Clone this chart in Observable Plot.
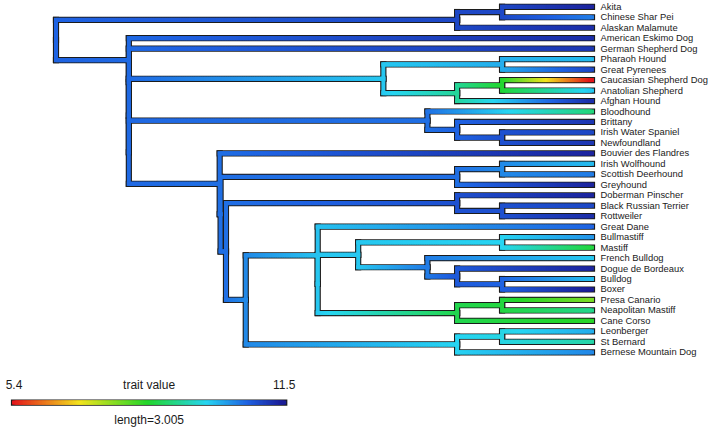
<!DOCTYPE html>
<html><head><meta charset="utf-8">
<script src="https://cdn.jsdelivr.net/npm/d3@7"></script>
<script src="https://cdn.jsdelivr.net/npm/@observablehq/plot@0.6"></script>
<style>body{margin:0;background:#fff;} #chart svg{display:block;}</style>
</head><body><div id="chart"></div>
<script>
// ---- data ----
const tipNames = ["Akita","Chinese Shar Pei","Alaskan Malamute","American Eskimo Dog","German Shepherd Dog","Pharaoh Hound","Great Pyrenees","Caucasian Shepherd Dog","Anatolian Shepherd","Afghan Hound","Bloodhound","Brittany","Irish Water Spaniel","Newfoundland","Bouvier des Flandres","Irish Wolfhound","Scottish Deerhound","Greyhound","Doberman Pinscher","Black Russian Terrier","Rottweiler","Great Dane","Bullmastiff","Mastiff","French Bulldog","Dogue de Bordeaux","Bulldog","Boxer","Presa Canario","Neapolitan Mastiff","Cane Corso","Leonberger","St Bernard","Bernese Mountain Dog"];
const tipParents = ["n2","n2","n1","nB1","nB2","nPG","nPG","nCA2","nCA2","nCA","nBl","nBr","nIN","nIN","nC1","nIS","nIS","nIW","nDob","nBR","nBR","nF1","nBM","nBM","nFr","nDo","nBB","nBB","nPN","nPN","nPr","nLS","nLS","nG"];
const tipValues = [11.4,10.5,11.3,11.3,11.2,10.0,11.0,5.4,9.9,11.3,9.0,11.2,11.0,11.2,11.4,10.0,10.5,11.4,11.4,11.0,11.3,10.7,10.3,8.6,9.9,11.4,10.0,11.5,7.8,9.1,8.4,10.1,9.3,10.4];
const nodeNames   = ["root","n1","n2","nB1","nB2","nB3","nB4","nPh","nPG","nCA","nCA2","nBl","nBr","nIN","nC1","nC2","nIW","nIS","nD","nDob","nBR","nE","nF1","nF2","nH","nBM","nFr","nDo","nBB","nPr","nPN","nG","nLS"];
const nodeParents = [null,"root","n1","root","nB1","nB2","nB3","nB3","nPh","nPh","nCA","nB4","nBl","nBr","nB4","nC1","nC2","nIW","nC2","nD","nDob","nD","nE","nF1","nF2","nH","nH","nFr","nDo","nF2","nPr","nE","nG"];
const nodeDepths  = [0,4.46,4.96,0.81,0.81,0.81,0.81,3.64,4.96,4.46,4.96,4.13,4.46,4.96,1.82,1.83,4.46,4.96,1.89,4.46,4.96,2.11,2.91,2.91,3.36,4.96,4.13,4.46,4.96,4.46,4.96,4.46,4.96];
const nodeValues  = [10.7,11.0,11.0,10.65,10.65,10.65,10.65,9.9,10.1,9.2,8.5,10.6,10.7,10.9,10.6,10.6,10.6,10.4,10.6,10.9,10.9,10.4,9.95,9.9,9.9,9.8,10.5,10.8,10.7,8.7,8.6,9.8,9.7];
const treeHeight = 5.96;
const traitRange = [5.4, 11.5];
const legendTitle = "trait value";
const legendLength = 3.005;

// ---- layout constants ----
const legendX0 = -0.467;
const legendBarY = 37.8, legendLabelY = 36.15, legendSubY = 39.5;
const font = "'Liberation Sans', Arial, Helvetica, sans-serif";

// ---- build tree ----
const nodes = new Map();
nodeNames.forEach((n,i)=>nodes.set(n,{name:n,parent:nodeParents[i],depth:nodeDepths[i],value:nodeValues[i],children:[]}));
tipNames.forEach((n,i)=>nodes.set(n,{name:n,parent:tipParents[i],depth:treeHeight,value:tipValues[i],children:[],tip:true,index:i}));
for (const nd of nodes.values()) if (nd.parent) nodes.get(nd.parent).children.push(nd);
function layoutY(nd){ if (nd.tip) return nd.y = nd.index; const ys = nd.children.map(layoutY); return nd.y = (Math.min(...ys)+Math.max(...ys))/2; }
layoutY(nodes.get("root"));

const step = 0.02;
const outline = [], pieces = [];
for (const nd of nodes.values()) {
  if (!nd.parent) continue;
  const p = nodes.get(nd.parent);
  outline.push({x1:p.depth,y1:p.y,x2:p.depth,y2:nd.y});
  pieces.push({x1:p.depth,y1:p.y,x2:p.depth,y2:nd.y,v:p.value});
  const len = nd.depth - p.depth;
  if (len > 0) {
    outline.push({x1:p.depth,y1:nd.y,x2:nd.depth,y2:nd.y});
    const n = Math.max(1, Math.ceil(len/step));
    for (let k=0;k<n;k++) pieces.push({x1:p.depth+len*k/n, x2:p.depth+len*(k+1)/n, y1:nd.y, y2:nd.y, v:p.value+(nd.value-p.value)*(k+0.5)/n});
  }
}
const tips = [...nodes.values()].filter(d=>d.tip);

// legend bar pieces
const nL = 200, legendPieces = [];
for (let k=0;k<nL;k++) legendPieces.push({x1:legendX0+legendLength*k/nL, x2:legendX0+legendLength*(k+1)/nL, v:traitRange[0]+(traitRange[1]-traitRange[0])*(k+0.5)/nL});
const legendLabels = [
  {x:legendX0, y:legendLabelY, t:String(traitRange[0])},
  {x:legendX0+legendLength/2, y:legendLabelY, t:legendTitle},
  {x:legendX0+legendLength, y:legendLabelY, t:String(traitRange[1])},
  {x:legendX0+legendLength/2, y:legendSubY, t:"length="+legendLength}
];

// palette
const stopsT = [0, 0.25, 0.5, 0.72, 0.87, 1];
const stopsC = ["#e3131b", "#f2e41e", "#22d62a", "#27d5f2", "#1f62e2", "#1b1c96"];
const ramp = t => { let i = 0; while (i < stopsT.length-2 && t > stopsT[i+1]) i++; return d3.interpolateRgb(stopsC[i], stopsC[i+1])(Math.max(0,Math.min(1,(t-stopsT[i])/(stopsT[i+1]-stopsT[i])))); };

const chart = Plot.plot({
  width: 708, height: 430, margin: 0,
  x: {domain:[0, treeHeight], range:[55.5, 591.5], axis:null},
  y: {domain:[0, 33], range:[6.3, 351.8], axis:null},
  color: {type:"linear", domain: traitRange, interpolate: ramp},
  style: {background:"#fff"},
  marks: [
    Plot.link(outline, {x1:"x1", y1:"y1", x2:"x2", y2:"y2", stroke:"#1c1c1c", strokeWidth:6.2, strokeLinecap:"square"}),
    Plot.link(pieces, {x1:"x1", y1:"y1", x2:"x2", y2:"y2", stroke:"v", strokeWidth:4, strokeLinecap:"square"}),
    Plot.text(tips, {x:"depth", y:"index", text:"name", textAnchor:"start", dx:8.5, fontSize:9.4, fill:"#1a1a1a", fontFamily:font}),
    Plot.link([{x1:legendX0, x2:legendX0+legendLength}], {x1:"x1", x2:"x2", y1:()=>legendBarY, y2:()=>legendBarY, stroke:"#1c1c1c", strokeWidth:6.2, strokeLinecap:"square"}),
    Plot.link(legendPieces, {x1:"x1", x2:"x2", y1:()=>legendBarY, y2:()=>legendBarY, stroke:"v", strokeWidth:4, strokeLinecap:"square"}),
    Plot.text(legendLabels, {x:"x", y:"y", text:"t", fontSize:12, fill:"#1a1a1a", fontFamily:font})
  ]
});
document.getElementById("chart").appendChild(chart);
</script>
</body></html>
